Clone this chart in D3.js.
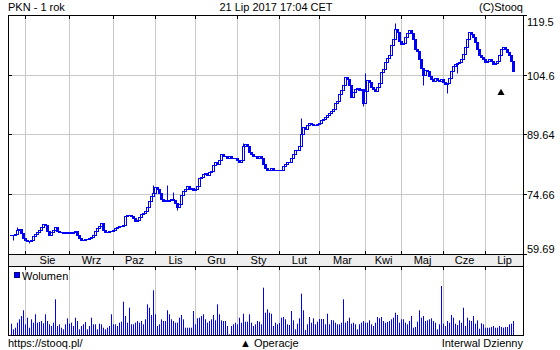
<!DOCTYPE html>
<html><head><meta charset="utf-8">
<script src="https://cdn.jsdelivr.net/npm/d3@7"></script>
<style>
html,body{margin:0;padding:0;background:#fff;}
svg{display:block;}
text{font-family:"Liberation Sans",Arial,sans-serif;font-size:11px;fill:#000;}
</style>
</head><body>
<svg id="c" width="560" height="350"></svg>
<script>
const title = "PKN - 1 rok";
const stamp = "21 Lip 2017 17:04 CET";
const credit = "(C)Stooq";
const footerLeft = "https://stooq.pl/";
const footerMid = "\u25B2 Operacje";
const footerRight = "Interwal Dzienny";
const volumeLabel = "Wolumen";

const monthLabels = ["Sie","Wrz","Paz","Lis","Gru","Sty","Lut","Mar","Kwi","Maj","Cze","Lip"];
const monthStartIdx = [7, 29, 51, 72, 92, 113, 134, 154, 177, 195, 216, 237];

const priceTicks = [59.69, 74.66, 89.64, 104.6, 119.5];
const priceTickLabels = ["59.69", "74.66", "89.64", "104.6", "119.5"];

// daily close, 21 Jul 2016 .. 21 Jul 2017
const close = [
64.5,64.5,64.7,65.7,66.0,65.0,63.7,63.2,63.0,63.0,
63.2,64.2,64.7,65.2,65.7,66.5,67.2,67.0,65.5,64.5,
65.2,65.7,66.5,65.5,65.2,65.2,65.0,65.2,65.0,65.2,
65.0,65.2,65.5,64.5,63.7,63.2,63.2,63.5,63.5,63.7,
64.0,64.5,65.5,66.2,66.7,67.5,65.7,65.2,65.2,65.5,
65.5,65.7,66.2,66.5,66.7,66.7,67.0,69.2,69.5,69.5,
69.2,68.7,68.0,68.2,69.0,69.7,70.0,70.5,71.5,73.0,
74.3,75.0,76.5,76.0,75.0,73.5,73.0,73.3,73.0,73.3,
73.5,73.3,72.5,71.5,72.3,74.5,75.5,76.0,76.8,76.0,
76.3,75.8,76.0,76.8,78.8,79.0,79.8,80.0,79.5,80.3,
80.5,82.0,82.8,82.3,83.3,84.6,84.1,84.3,83.8,84.1,
83.6,83.8,83.6,83.3,82.8,83.3,86.8,87.1,86.6,85.3,
84.6,84.1,84.1,83.8,84.1,83.8,82.3,81.1,80.8,80.6,
81.1,80.8,80.6,80.8,80.6,80.8,81.8,82.3,82.6,82.6,
83.8,84.6,85.6,85.8,86.6,89.6,91.4,90.9,91.9,92.4,
92.1,91.9,91.9,92.1,92.4,93.1,93.4,93.9,94.6,94.9,
95.6,96.1,97.4,98.1,99.7,100.7,101.9,103.9,103.4,101.9,
99.1,100.2,100.9,101.2,100.7,100.9,97.4,100.4,103.2,102.7,
101.4,100.9,100.4,101.4,102.4,105.2,105.9,107.7,108.7,109.5,
112.0,113.5,116.0,115.2,113.0,112.2,112.5,114.0,115.0,115.7,
115.0,113.5,111.0,110.5,108.4,106.2,104.4,105.7,105.4,104.2,
103.4,102.9,103.7,103.2,102.9,103.4,102.7,102.2,102.4,103.7,
105.4,106.7,107.2,107.4,107.7,108.4,109.7,111.5,113.5,115.2,
114.7,114.0,112.7,111.0,109.5,108.9,108.4,107.7,107.9,108.4,
107.9,107.2,107.4,107.9,109.5,111.0,111.5,111.0,110.2,109.5,
107.9,105.4
];

// intraday extremes visible as wicks (day index, price reached)
const wickIdx = [1, 3, 9, 71, 78, 81, 83, 116, 145, 176, 177, 192, 206, 218, 223];
const wickTo  = [63.2, 66.5, 62.4, 77.0, 77.0, 75.2, 70.7, 87.5, 93.7, 96.7, 105.0, 117.5, 102.0, 100.0, 105.0];

// daily volume (thousands of shares)
const volume = [
1130,570,730,1230,1570,1900,2470,1070,1730,730,
1570,1230,2070,1230,1300,1400,1170,2070,1400,1070,
900,1230,3570,900,1070,730,570,1070,1670,1130,
1230,900,1730,1400,570,900,1070,1300,570,900,
1730,1070,1070,570,1130,1070,730,570,730,900,
2070,1070,1070,900,1230,1330,3330,1900,1230,2730,
1070,1070,1230,1400,1230,1400,1070,1570,3070,2730,
2000,4470,2070,900,1070,1570,1400,1400,2470,2070,
1570,1400,1230,1230,1730,2000,1570,730,730,730,
730,2400,1070,1670,1730,1900,2070,1570,1230,1400,
1570,2000,1470,3070,2070,1470,1400,1400,900,70,
900,1070,1230,1070,1730,1230,2130,1330,1330,2070,
1230,900,1070,1400,1330,1070,4730,2230,2570,2230,
2130,900,1230,1070,1200,
1730,1800,1570,1070,1000,2400,1470,570,1130,1670,
4130,2470,500,1070,1800,1230,1670,1070,1330,1600,
1600,1600,1070,2130,1070,1500,1470,1230,1070,1070,
1230,3570,1230,1400,1730,1130,1230,1070,570,1070,
1230,1400,1230,1230,1470,1070,900,1230,1800,1670,
1800,1400,1230,1300,1400,1570,1730,2230,2000,1230,
1570,1570,1230,1070,1400,1900,730,800,1330,2470,
1730,1900,1400,1470,1570,1670,1400,1230,570,1070,
4900,1130,900,1400,1230,2000,1730,1130,1000,1470,
1230,2730,900,1730,1470,1400,1900,1130,1470,630,
1170,1070,730,730,730,800,900,730,730,900,
800,730,800,800,1070,1130,1400
];

const operationIdx = [245];
const operationPrice = [100.0];

const BLUE = "#0000ff", GRID = "#c8c8c8";
const L = 8, R = 523, PT = 15, PB = 254, BB = 266, VB = 335;

const svg = d3.select("#c");
svg.append("rect").attr("width",560).attr("height",350).attr("fill","#fff");

const x = d3.scaleLinear().domain([0, close.length - 1]).range([11, 513]);
const y = d3.scaleLinear().domain([59.69, 119.5]).range([PB, PT]);
const yR = y.copy().interpolate(d3.interpolateRound);
const yv = d3.scaleLinear().domain([0, 6900]).range([VB, BB]);

// axis band
svg.append("rect").attr("x", L + 0.5).attr("y", PB + 0.5).attr("width", R - L).attr("height", BB - PB).attr("fill", "#eeeeee");

// grid
const grid = svg.append("g").attr("stroke", GRID).attr("stroke-width", 1);
monthStartIdx.forEach(j => {
  const gx = Math.round(x(j)) + 0.5;
  grid.append("line").attr("x1", gx).attr("x2", gx).attr("y1", PT).attr("y2", PB);
  grid.append("line").attr("x1", gx).attr("x2", gx).attr("y1", BB).attr("y2", VB);
});
priceTicks.slice(1, -1).forEach(v => {
  const gy = yR(v) + 0.5;
  grid.append("line").attr("x1", L).attr("x2", R).attr("y1", gy).attr("y2", gy);
});

// wicks
const cg = svg.append("g");
wickIdx.forEach((j, k) => {
  const xs = Math.round(x(j)) + 0.5;
  const o = j > 0 ? close[j - 1] : close[j];
  const base = wickTo[k] > close[j] ? Math.max(o, close[j]) : Math.min(o, close[j]);
  cg.append("line").attr("x1", xs).attr("x2", xs)
    .attr("y1", Math.round(y(base)) + 0.5).attr("y2", Math.round(y(wickTo[k])) + 0.5)
    .attr("stroke", BLUE).attr("stroke-width", 1);
});

// candles (body from previous close to close)
close.forEach((c, j) => {
  const o = j > 0 ? close[j - 1] : c;
  const xs = Math.round(x(j));
  const y1 = Math.round(y(Math.max(o, c))) + 0.5;
  const y2 = Math.round(y(Math.min(o, c))) + 0.5;
  if (y2 - y1 < 1) {
    cg.append("path").attr("d", `M${xs - 1},${y1}H${xs + 2}`)
      .attr("stroke", BLUE).attr("stroke-width", 1).attr("fill", "none");
  } else {
    cg.append("rect")
      .attr("x", xs - 0.5).attr("y", y1)
      .attr("width", 2).attr("height", y2 - y1)
      .attr("fill", c >= o ? "#fff" : BLUE)
      .attr("stroke", BLUE).attr("stroke-width", 1);
  }
});

// volume bars
svg.append("g").selectAll("rect").data(volume).join("rect")
  .attr("x", (d, j) => Math.round(x(j)))
  .attr("y", d => yv(d))
  .attr("width", 1)
  .attr("height", d => VB - yv(d))
  .attr("fill", BLUE);

// operations marker
svg.append("g").selectAll("path").data(operationIdx).join("path")
  .attr("d", d3.symbol(d3.symbolTriangle, 22))
  .attr("transform", (d, k) => `translate(${Math.round(x(d))},${y(operationPrice[k])})`)
  .attr("fill", "#000");

// frames
const fr = svg.append("g").attr("stroke", "#000").attr("fill", "none");
fr.append("rect").attr("x", L + 0.5).attr("y", PT + 0.5).attr("width", R - L).attr("height", PB - PT);
fr.append("rect").attr("x", L + 0.5).attr("y", PB + 0.5).attr("width", R - L).attr("height", BB - PB);
fr.append("rect").attr("x", L + 0.5).attr("y", BB + 0.5).attr("width", R - L).attr("height", VB - BB);

// month ticks
const xr = x.copy().interpolate(d3.interpolateRound);
function strip(g){ g.select(".domain").remove(); g.attr("font-size", null).attr("font-family", null); }
svg.append("g").attr("transform", `translate(0,${PT})`)
  .call(d3.axisBottom(xr).tickValues(monthStartIdx).tickSize(4).tickFormat("")).call(strip);
svg.append("g").attr("transform", `translate(0,${PB})`)
  .call(d3.axisTop(xr).tickValues(monthStartIdx).tickSize(3).tickFormat("")).call(strip);
svg.append("g").attr("transform", `translate(0,${BB})`)
  .call(d3.axisBottom(xr).tickValues(monthStartIdx).tickSize(4).tickFormat("")).call(strip);

// month labels
const ends = monthStartIdx.map((j, k) => k < monthStartIdx.length - 1 ? x(monthStartIdx[k + 1]) : R);
svg.append("g").selectAll("text").data(monthLabels).join("text")
  .attr("x", (d, k) => (x(monthStartIdx[k]) + ends[k]) / 2 + 0.5)
  .attr("y", PB + 10)
  .attr("text-anchor", "middle")
  .text(d => d);

// price axis (right)
const yAxisG = svg.append("g").attr("transform", `translate(${R},0)`)
  .call(d3.axisRight(yR).tickValues(priceTicks).tickSize(4).tickPadding(0)
        .tickFormat((d, k) => priceTickLabels[k]))
  .call(strip);
yAxisG.selectAll("text").attr("dy", null)
  .attr("y", d => Math.min(Math.max(yR(d), PT + 6), PB - 6) - yR(d) + 4)
  .attr("x", 4);
svg.append("g").attr("transform", `translate(${L},0)`)
  .call(d3.axisRight(yR).tickValues(priceTicks).tickSize(4).tickFormat("")).call(strip);

// header / footer text
svg.append("text").attr("x", 8).attr("y", 11).text(title);
svg.append("text").attr("x", 276).attr("y", 11).attr("text-anchor", "middle").text(stamp);
svg.append("text").attr("x", R).attr("y", 11).attr("text-anchor", "end").text(credit);
svg.append("text").attr("x", 8).attr("y", 347).text(footerLeft);
svg.append("text").attr("x", 240).attr("y", 347).text(footerMid);
svg.append("text").attr("x", R).attr("y", 347).attr("text-anchor", "end").text(footerRight);

// volume legend
svg.append("rect").attr("x", 14.5).attr("y", 272.5).attr("width", 5).attr("height", 5)
  .attr("fill", BLUE).attr("stroke", "#000080");
svg.append("text").attr("x", 22).attr("y", 280).text(volumeLabel);
</script>
</body></html>
